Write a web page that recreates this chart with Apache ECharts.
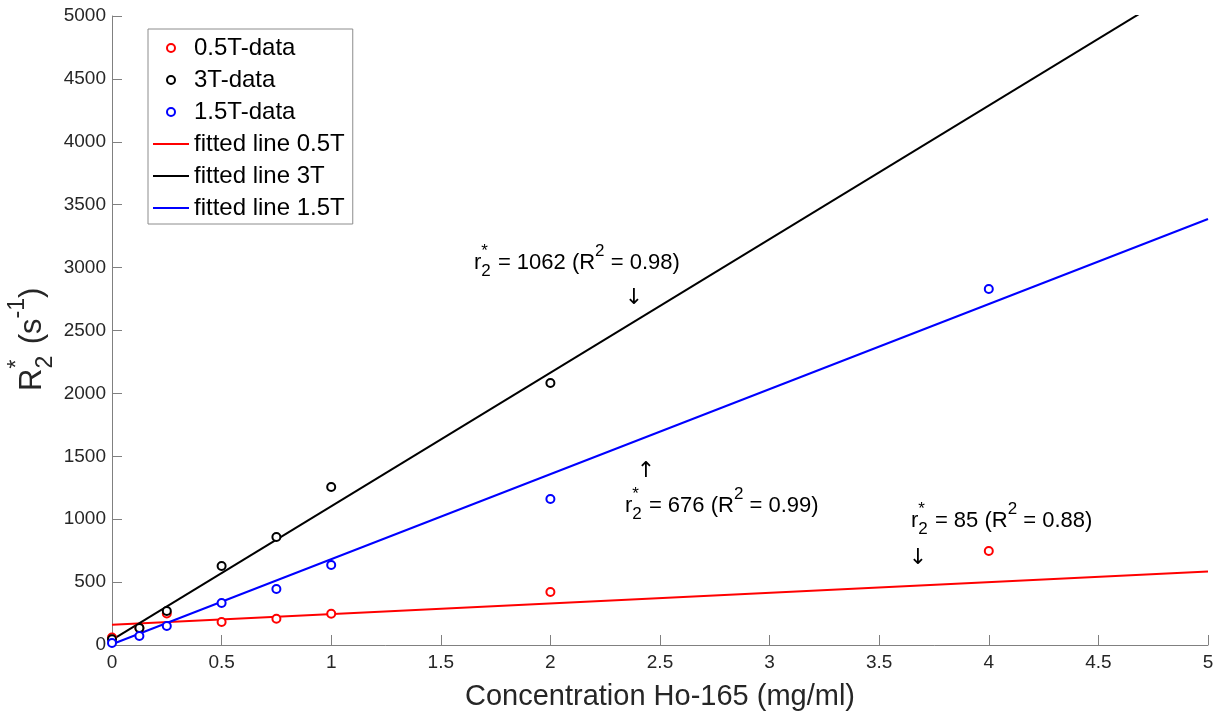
<!DOCTYPE html>
<html>
<head>
<meta charset="utf-8">
<script src="https://cdn.jsdelivr.net/npm/echarts@6/dist/echarts.min.js"></script>
<style>html,body{margin:0;padding:0;background:#fff}#c{width:1228px;height:719px}</style>
</head>
<body>
<div id="c"></div>
<script>
// ---- data ----
const xConc = [0, 0.125, 0.25, 0.5, 0.75, 1, 2, 4];
const r2_05T = [60, 135, 250, 183, 209, 249, 421, 747];
const xConc3T = [0, 0.125, 0.25, 0.5, 0.75, 1, 2];
const r2_3T = [45, 135, 270, 628, 859, 1256, 2083];
const r2_15T = [16, 72, 151, 334, 445, 636, 1160, 2830];
const fitX = [0, 5];
const fit05T = [160, 585];
const fit3T = [40, 5350];
const fit15T = [6, 3386];
const seriesNames = ['0.5T-data', '3T-data', '1.5T-data', 'fitted line 0.5T', 'fitted line 3T', 'fitted line 1.5T'];

const FONT = "'Liberation Sans', Arial, Helvetica, sans-serif";
const pair = (xs, ys) => xs.map((x, i) => [x, ys[i]]);

// measure helper
const mctx = document.createElement('canvas').getContext('2d');
function tw(t, fs) { mctx.font = fs + 'px ' + FONT; return mctx.measureText(t).width; }

// build text with sub/superscripts; parts: {t} base, {sup}, {sub}, {sup, sub} stacked
function mathText(parts, B, color) {
  const S = Math.round(B * 0.75);
  const children = [];
  let cx = 0;
  const add = (t, fs, dy) => children.push({
    type: 'text', x: cx, y: dy,
    style: { text: t, font: fs + 'px ' + FONT, fill: color, verticalAlign: 'middle', align: 'left' }
  });
  parts.forEach(p => {
    if (p.t !== undefined) { add(p.t, B, -0.33 * B); cx += tw(p.t, B); }
    else {
      let w = 0;
      if (p.sup !== undefined) { add(p.sup, S, -0.33 * B - 0.5 * B); w = Math.max(w, tw(p.sup, S)); }
      if (p.sub !== undefined) { add(p.sub, S, -0.33 * B + 0.4 * B); w = Math.max(w, tw(p.sub, S)); }
      cx += w + (p.pad || 0);
    }
  });
  return children;
}

function annot(x, y, r2, R2) {
  return {
    type: 'group', x: x, y: y,
    children: mathText([{ t: 'r' }, { sup: '*', sub: '2', pad: 1 }, { t: ' = ' + r2 + ' (R' }, { sup: '2' }, { t: ' = ' + R2 + ')' }], 22, '#000')
  };
}
function arrow(x, y, ch) {
  return { type: 'text', x: x, y: y, style: { text: ch, font: "22px 'DejaVu Sans'", fill: '#000', align: 'center', verticalAlign: 'middle' } };
}

const chart = echarts.init(document.getElementById('c'));
const lineCommon = { type: 'line', symbol: 'none', showSymbol: false, z: 2, silent: true, animation: false };
const scatCommon = { type: 'scatter', symbol: 'emptyCircle', symbolSize: 8, z: 3, animation: false };
const lineIcon = 'path://M0 0H36V2H0Z';

chart.setOption({
  animation: false,
  grid: { left: 112, right: 20, top: 16, bottom: 74, containLabel: false },
  xAxis: {
    type: 'value', min: 0, max: 5, interval: 0.5,
    name: 'Concentration Ho-165 (mg/ml)', nameLocation: 'middle', nameGap: 37,
    nameTextStyle: { fontFamily: FONT, fontSize: 29, color: '#262626' },
    axisLine: { show: true, lineStyle: { color: '#808080', width: 1 } },
    axisTick: { show: true, inside: true, length: 10, lineStyle: { color: '#808080' } },
    axisLabel: { fontFamily: FONT, fontSize: 19, color: '#262626', margin: 8 },
    splitLine: { show: false }
  },
  yAxis: {
    type: 'value', min: 0, max: 5000, interval: 500,
    axisLine: { show: true, lineStyle: { color: '#808080', width: 1 } },
    axisTick: { show: true, inside: true, length: 10, lineStyle: { color: '#808080' } },
    axisLabel: { fontFamily: FONT, fontSize: 19, color: '#262626', margin: 6, formatter: v => String(v) },
    splitLine: { show: false }
  },
  legend: {
    orient: 'vertical', left: 148, top: 29,
    padding: [7, 8, 4, 5], itemGap: 8, itemWidth: 36, itemHeight: 8,
    backgroundColor: '#fff', borderColor: '#8c8c8c', borderWidth: 1, borderRadius: 0,
    textStyle: { fontFamily: FONT, fontSize: 24, color: '#000', lineHeight: 24 },
    data: [
      { name: seriesNames[0] }, { name: seriesNames[1] }, { name: seriesNames[2] },
      { name: seriesNames[3], icon: lineIcon }, { name: seriesNames[4], icon: lineIcon }, { name: seriesNames[5], icon: lineIcon }
    ]
  },
  series: [
    Object.assign({ name: seriesNames[0], data: pair(xConc, r2_05T) }, scatCommon, { itemStyle: { color: '#ff0000', borderColor: '#ff0000', borderWidth: 2, opacity: 1 } }),
    Object.assign({ name: seriesNames[1], data: pair(xConc3T, r2_3T) }, scatCommon, { itemStyle: { color: '#000000', borderColor: '#000000', borderWidth: 2, opacity: 1 } }),
    Object.assign({ name: seriesNames[2], data: pair(xConc, r2_15T) }, scatCommon, { itemStyle: { color: '#0000ff', borderColor: '#0000ff', borderWidth: 2, opacity: 1 } }),
    Object.assign({ name: seriesNames[3], data: pair(fitX, fit05T) }, lineCommon, { itemStyle: { color: '#ff0000' }, lineStyle: { width: 2, color: '#ff0000' } }),
    Object.assign({ name: seriesNames[4], data: pair(fitX, fit3T) }, lineCommon, { itemStyle: { color: '#000000' }, lineStyle: { width: 2, color: '#000000' } }),
    Object.assign({ name: seriesNames[5], data: pair(fitX, fit15T) }, lineCommon, { itemStyle: { color: '#0000ff' }, lineStyle: { width: 2, color: '#0000ff' } })
  ],
  graphic: [
    annot(474, 270, '1062', '0.98'),
    arrow(634, 298, '\u2193'),
    annot(625, 513, '676', '0.99'),
    arrow(646, 471, '\u2191'),
    annot(911, 528, '85', '0.88'),
    arrow(918, 558, '\u2193'),
    {
      type: 'group', x: 43, y: 391, rotation: Math.PI / 2,
      children: mathText([{ t: 'R' }, { sup: '*', sub: '2', pad: 3 }, { t: ' (s' }, { sup: '-1' }, { t: ')' }], 31, '#262626')
    }
  ]
});
</script>
</body>
</html>
